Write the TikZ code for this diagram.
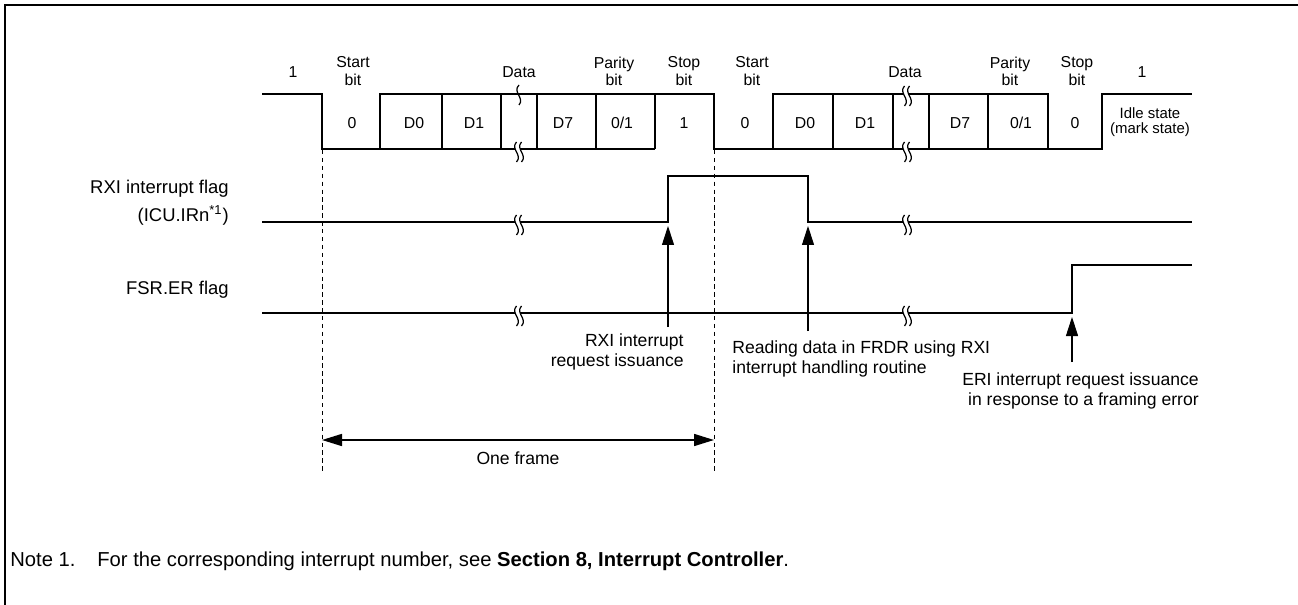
\documentclass[tikz,border=0pt]{standalone}
\usepackage{fontspec}
\setmainfont{Liberation Sans}
\usetikzlibrary{arrows.meta}

\begin{document}
\begin{tikzpicture}[x=0.02cm,y=-0.02cm,
  sig/.style={line width=1.35pt},
  guide/.style={line width=0.5pt,dash pattern=on 2.5pt off 2pt},
  arr/.style={line width=0.6pt,-{Triangle[length=0.38cm,width=0.24cm]}},
  hdr/.style={font=\fontsize{9}{9.8}\selectfont,align=center,inner sep=0pt},
  bitlbl/.style={font=\fontsize{9}{9}\selectfont,align=center,inner sep=0pt},
  txt/.style={font=\fontsize{10}{11.5}\selectfont,inner sep=0pt},
  side/.style={font=\fontsize{10.5}{12}\selectfont,inner sep=0pt,anchor=east},
  brk/.pic={
    \fill[white] (-2.5,-10) .. controls (-9,-3) and (4,3) .. (-2.5,10) -- (2.5,10)
      .. controls (9,3) and (-4,-3) .. (2.5,-10) -- cycle;
    \draw[line width=0.7pt] (-2.5,-10) .. controls (-9,-3) and (4,3) .. (-2.5,10);
    \draw[line width=0.7pt] (2.5,-10) .. controls (-4,-3) and (9,3) .. (2.5,10);
  },
  brkone/.pic={
    \draw[line width=0.7pt] (0,-10) .. controls (-7,-3) and (6,3) .. (0,10);
  }]
\useasboundingbox (0,0) rectangle (1298,605);
\draw[line width=1.2pt] (5,605) -- (5,5) -- (1298,5);

% serial data
\draw[sig] (262,94) -- (322,94) -- (322,149) -- (655,149);
\draw[sig] (380,149) -- (380,94) -- (714,94) -- (714,149) -- (1102,149) -- (1102,94) -- (1192,94);
\draw[sig] (773,149) -- (773,94) -- (1048,94) -- (1048,149);
\foreach \x in {442,501,537,596,655,833,893,929,988}
  \draw[sig] (\x,94) -- (\x,149);

\node[hdr] (one1) at (293,72) {1};
\node[hdr] (start1) at (353,71) {Start\\bit};
\node[hdr] (data1) at (519,72) {Data};
\node[hdr] (par1) at (614,71) {Parity\\bit};
\node[hdr] (stop1) at (684,71) {Stop\\bit};
\node[hdr] (start2) at (752,71) {Start\\bit};
\node[hdr] (data2) at (905,72) {Data};
\node[hdr] (par2) at (1010,71) {Parity\\bit};
\node[hdr] (stop2) at (1077,71) {Stop\\bit};
\node[hdr] (one2) at (1142,72) {1};

\node[bitlbl] (b0a) at (352,123) {0};
\node[bitlbl] (d0a) at (414,123) {D0};
\node[bitlbl] (d1a) at (474,123) {D1};
\node[bitlbl] (d7a) at (563,123) {D7};
\node[bitlbl] (pa) at (622,123) {0/1};
\node[bitlbl] (spa) at (684,123) {1};
\node[bitlbl] (b0b) at (745,123) {0};
\node[bitlbl] (d0b) at (805,123) {D0};
\node[bitlbl] (d1b) at (865,123) {D1};
\node[bitlbl] (d7b) at (960,123) {D7};
\node[bitlbl] (pb) at (1021,123) {0/1};
\node[bitlbl] (spb) at (1075,123) {0};
\node[bitlbl,font=\fontsize{8.5}{8.5}\selectfont] (idle) at (1150,122) {Idle state\\(mark state)};

% flags
\node[side] (rxilbl) at (229,189) {RXI interrupt flag};
\node[side] (irnlbl) at (229,215) {(ICU.IRn\textsuperscript{*1})};
\node[side] (fsrlbl) at (229,290) {FSR.ER flag};
\draw[sig] (262,222) -- (668,222) -- (668,176) -- (808,176) -- (808,222) -- (1192,222);
\draw[sig] (262,313) -- (1072,313) -- (1072,265) -- (1192,265);

\pic at (519,95) {brkone};
\pic at (519,152) {brk};
\pic at (907,96) {brk};
\pic at (907,152) {brk};
\pic at (519,225) {brk};
\pic at (907,225) {brk};
\pic at (519,316) {brk};
\pic at (907,316) {brk};

% frame guides
\coordinate (g1top) at (322,150);
\coordinate (g1bot) at (322,474);
\coordinate (g2top) at (714,150);
\coordinate (g2bot) at (714,474);
\draw[guide] (g1top) -- (g1bot);
\draw[guide] (g2top) -- (g2bot);
\coordinate (fl) at (322,440);
\coordinate (fr) at (714,440);
\draw[line width=0.9pt,{Triangle[length=0.4cm,width=0.24cm]}-{Triangle[length=0.4cm,width=0.24cm]}] (fl) -- (fr);
\node[txt] (frametxt) at (518,458) {One frame};

% events
\coordinate (rxihead) at (668,226);
\coordinate (rxifoot) at (668,327);
\coordinate (readhead) at (808,226);
\coordinate (readfoot) at (808,331);
\coordinate (erihead) at (1072,317);
\coordinate (erifoot) at (1072,362);
\draw[arr] (rxifoot) -- (rxihead);
\draw[arr] (readfoot) -- (readhead);
\draw[arr] (erifoot) -- (erihead);
\node[txt,anchor=east,align=right] (rxitxt) at (684,352) {RXI interrupt\\request issuance};
\node[txt,anchor=west,align=left] (readtxt) at (732,359) {Reading data in FRDR using RXI\\interrupt handling routine};
\node[txt,anchor=east,align=right] (eritxt) at (1199,391) {ERI interrupt request issuance\\in response to a framing error};

\node[font=\fontsize{11.5}{13}\selectfont,inner sep=0pt,anchor=base west] (notenum) at (10,566) {Note 1.};
\node[font=\fontsize{11.5}{13}\selectfont,inner sep=0pt,anchor=base west] (notetxt) at (97,566) {For the corresponding interrupt number, see \textbf{Section 8, Interrupt Controller}.};
\end{tikzpicture}
\end{document}
